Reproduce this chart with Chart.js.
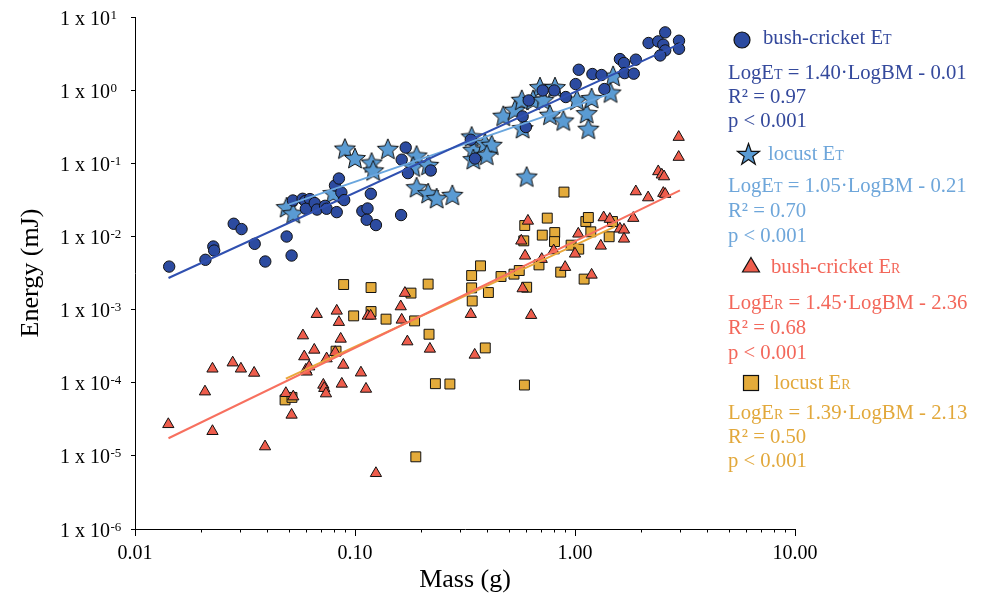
<!DOCTYPE html>
<html>
<head>
<meta charset="utf-8">
<script src="https://cdn.jsdelivr.net/npm/chart.js@4.4.1/dist/chart.umd.min.js"></script>
<style>
  body { margin: 0; background: #fff; }
  #wrap { position: relative; width: 983px; height: 597px; background: #fff; }
  .lg { position: absolute; font-family: "Liberation Serif", "Times New Roman", serif; font-size: 20.7px; line-height: 24px; white-space: nowrap; }
  .sc { font-variant: small-caps; }
  .mk { position: absolute; }
  .c1 { color: #34499c; }
  .c2 { color: #6ea6da; }
  .c3 { color: #f3675a; }
  .c4 { color: #e2a83b; }
</style>
</head>
<body>
<div id="wrap">
  <canvas id="myChart" width="983" height="597"></canvas>

  <svg class="mk" style="left:732px;top:30px" width="20" height="20"><circle cx="10" cy="10" r="8" fill="#2c4ba0" stroke="#111" stroke-width="1.2"/></svg>
  <div class="lg c1" style="left:763px;top:25px">bush-cricket E<span class="sc">t</span></div>
  <div class="lg c1" style="left:728px;top:60px">LogE<span class="sc">t</span> = 1.40·LogBM - 0.01</div>
  <div class="lg c1" style="left:728px;top:84px">R² = 0.97</div>
  <div class="lg c1" style="left:728px;top:108px">p &lt; 0.001</div>

  <svg class="mk" style="left:736px;top:142px" width="25" height="25"><polygon fill="#5a9bd3" stroke="#111" stroke-width="1.2" points="12.5,1.5 15.2,9.3 23.5,9.4 16.8,14.4 19.3,22.3 12.5,17.6 5.7,22.3 8.2,14.4 1.5,9.4 9.8,9.3"/></svg>
  <div class="lg c2" style="left:768px;top:141px">locust E<span class="sc">t</span></div>
  <div class="lg c2" style="left:728px;top:173px">LogE<span class="sc">t</span> = 1.05·LogBM - 0.21</div>
  <div class="lg c2" style="left:728px;top:198px">R² = 0.70</div>
  <div class="lg c2" style="left:728px;top:223px">p &lt; 0.001</div>

  <svg class="mk" style="left:741px;top:256px" width="20" height="18"><polygon fill="#ee5d4c" stroke="#111" stroke-width="1.2" points="10,1.5 18.5,16 1.5,16"/></svg>
  <div class="lg c3" style="left:771px;top:254px">bush-cricket E<span class="sc">r</span></div>
  <div class="lg c3" style="left:728px;top:290px">LogE<span class="sc">r</span> = 1.45·LogBM - 2.36</div>
  <div class="lg c3" style="left:728px;top:315px">R² = 0.68</div>
  <div class="lg c3" style="left:728px;top:340px">p &lt; 0.001</div>

  <svg class="mk" style="left:742px;top:374px" width="18" height="18"><rect x="1.5" y="1.5" width="15" height="15" fill="#e4ab3b" stroke="#111" stroke-width="1.2"/></svg>
  <div class="lg c4" style="left:774px;top:370px">locust E<span class="sc">r</span></div>
  <div class="lg c4" style="left:728px;top:400px">LogE<span class="sc">r</span> = 1.39·LogBM - 2.13</div>
  <div class="lg c4" style="left:728px;top:424px">R² = 0.50</div>
  <div class="lg c4" style="left:728px;top:448px">p &lt; 0.001</div>
</div>

<script>
// bush-cricket E_T (circles)
var bcEtMass = [0.0143, 0.0209, 0.0227, 0.0229, 0.0281, 0.0305, 0.035, 0.0391, 0.0489, 0.0515,
  0.0522, 0.0578, 0.0594, 0.0624, 0.0598, 0.0656, 0.0672, 0.0731, 0.0743, 0.0826,
  0.0811, 0.0845, 0.0867, 0.0893, 0.108, 0.114, 0.113, 0.118, 0.1245, 0.170,
  0.163, 0.174, 0.221, 0.162, 0.336, 0.351, 0.616, 0.578, 0.598, 0.713,
  0.805, 0.908, 1.007, 1.04, 1.20, 1.32, 1.36, 1.60, 1.67, 1.89,
  1.68, 1.85, 2.16, 2.39, 2.57, 2.52, 2.57, 2.44, 2.97, 2.97];
var bcEtEnergy = [0.00387, 0.00479, 0.00728, 0.00641, 0.0149, 0.0126, 0.00792, 0.00454, 0.00997, 0.00548,
  0.031, 0.0327, 0.0304, 0.0324, 0.0239, 0.0286, 0.0233, 0.0262, 0.0239, 0.0215,
  0.0497, 0.0619, 0.0399, 0.0314, 0.0222, 0.0241, 0.0169, 0.0383, 0.0143, 0.164,
  0.112, 0.0734, 0.0797, 0.0196, 0.210, 0.116, 0.723, 0.437, 0.313, 0.99,
  0.99, 0.805, 1.21, 1.90, 1.66, 1.61, 1.035, 2.66, 2.35, 2.61,
  1.71, 1.68, 4.41, 4.64, 6.16, 4.18, 3.49, 2.98, 4.74, 3.68];

// locust E_T (stars)
var lcEtMass = [0.0489, 0.0524, 0.090, 0.100, 0.119, 0.121, 0.141, 0.1905, 0.184, 0.215,
  0.1905, 0.215, 0.235, 0.277, 0.339, 0.345, 0.345, 0.390, 0.418, 0.397,
  0.603, 0.472, 0.533, 0.573, 0.578, 0.693, 0.811, 0.645, 0.718, 0.769,
  0.885, 1.02, 1.13, 1.15, 1.19, 1.49, 1.45, 0.0796];
var lcEtEnergy = [0.0252, 0.0208, 0.159, 0.118, 0.1026, 0.080, 0.158, 0.128, 0.0904, 0.0953,
  0.0472, 0.0391, 0.0334, 0.037, 0.233, 0.153, 0.114, 0.189, 0.179, 0.131,
  0.0659, 0.447, 0.54, 0.739, 0.303, 1.10, 1.10, 0.739, 0.739, 0.461,
  0.385, 0.739, 0.486, 0.297, 0.78, 1.57, 0.93, 0.0391];

// bush-cricket E_R (triangles)
var bcErMass = [0.01417, 0.0208, 0.0225, 0.0225, 0.0278, 0.0303, 0.0348, 0.039, 0.0485, 0.0515,
  0.0524, 0.058, 0.0588, 0.0598, 0.0603, 0.0619, 0.0653, 0.067, 0.0743, 0.0718,
  0.0725, 0.0738, 0.0813, 0.0826, 0.0845, 0.0861, 0.0885, 0.0871, 0.1064, 0.1122,
  0.1245, 0.1686, 0.1614, 0.1143, 0.1178, 0.163, 0.173, 0.219, 0.336, 0.35,
  0.611, 0.570, 0.593, 0.578, 0.632, 0.706, 0.80, 0.902, 1.00, 1.035,
  1.19, 1.31, 1.35, 1.44, 1.60, 1.67, 1.67, 1.84, 1.89, 2.15,
  2.52, 2.57, 2.39, 2.48, 2.54, 2.96, 2.96];
var bcErEnergy = [2.70e-5, 7.55e-5, 1.55e-4, 2.17e-5, 1.88e-4, 1.55e-4, 1.36e-4, 1.34e-5, 7.18e-5, 3.63e-5,
  6.46e-5, 4.41e-4, 2.28e-4, 1.50e-4, 1.41e-4, 1.66e-4, 2.81e-4, 8.65e-4, 2.14e-4, 9.33e-5,
  8.41e-5, 7.10e-5, 2.61e-4, 9.6e-4, 6.73e-4, 3.97e-4, 1.75e-4, 9.64e-5, 1.37e-4, 8.22e-5,
  5.78e-6, 1.68e-3, 1.10e-3, 8.2e-4, 8.2e-4, 7.23e-4, 3.65e-4, 2.90e-4, 8.65e-4, 2.40e-4,
  0.0163, 8.71e-3, 5.43e-3, 1.94e-3, 8.38e-4, 4.89e-3, 6.41e-3, 3.80e-3, 5.78e-3, 0.01086,
  2.98e-3, 7.43e-3, 0.01815, 0.01726, 0.0127, 0.0123, 9.27e-3, 0.0178, 0.0411, 0.0340,
  0.0391, 0.0379, 0.0773, 0.0697, 0.0659, 0.228, 0.1216];

// locust E_R (squares)
var lcErMass = [0.0481, 0.0517, 0.0888, 0.1183, 0.1797, 0.215, 0.0986, 0.1183, 0.1384, 0.1866,
  0.217, 0.082, 0.232, 0.270, 0.189, 0.339, 0.339, 0.341, 0.372, 0.404,
  0.391, 0.461, 0.528, 0.558, 0.589, 0.591, 0.585, 0.603, 0.686, 0.710,
  0.748, 0.809, 0.807, 0.861, 0.891, 0.96, 1.04, 1.10, 1.12, 1.15,
  1.18, 1.43, 1.48];
var lcErEnergy = [5.82e-5, 6.3e-5, 2.20e-3, 2.0e-3, 1.68e-3, 2.23e-3, 8.2e-4, 9.4e-4, 7.4e-4, 7.0e-4,
  4.6e-4, 2.70e-4, 9.7e-5, 9.6e-5, 9.7e-6, 2.92e-3, 1.98e-3, 1.31e-3, 3.96e-3, 1.71e-3,
  2.99e-4, 2.83e-3, 3.05e-3, 3.42e-3, 9.3e-5, 0.0141, 8.7e-3, 2.02e-3, 4.08e-3, 0.01042,
  0.0178, 0.0113, 8.5e-3, 3.25e-3, 0.0404, 7.6e-3, 6.7e-3, 2.61e-3, 0.0160, 0.01815,
  0.01156, 9.9e-3, 0.0160];

// fitted lines (end points as drawn)
var bcEtFitMass = [0.0142, 3.10], bcEtFitEnergy = [0.0027, 4.5];
var lcEtFitMass = [0.0496, 1.44], lcEtFitEnergy = [0.027, 0.89];
var bcErFitMass = [0.0142, 3.0], bcErFitEnergy = [1.74e-5, 0.0425];
var lcErFitMass = [0.0485, 1.52], lcErFitEnergy = [1.14e-4, 0.0136];

var xTickLabels = { '0.01': '0.01', '0.1': '0.10', '1': '1.00', '10': '10.00' };

function pts(xs, ys) {
  return xs.map(function (x, i) { return { x: x, y: ys[i] }; });
}
function isDecade(v) {
  var l = Math.log10(v);
  return Math.abs(l - Math.round(l)) < 1e-6;
}

// five point star marker
var star = document.createElement('canvas');
star.width = 26; star.height = 26;
(function () {
  var c = star.getContext('2d');
  c.beginPath();
  for (var i = 0; i < 10; i++) {
    var r = i % 2 === 0 ? 11 : 5;
    var a = -Math.PI / 2 + i * Math.PI / 5;
    c.lineTo(13 + r * Math.cos(a), 14 + r * Math.sin(a));
  }
  c.closePath();
  c.fillStyle = '#5a9bd3';
  c.fill();
  c.lineWidth = 1;
  c.strokeStyle = '#111';
  c.stroke();
})();

var serif = '"Liberation Serif", "Times New Roman", serif';

var axisDeco = {
  id: 'axisDeco',
  afterDraw: function (chart) {
    var ctx = chart.ctx, ys = chart.scales.y, xs = chart.scales.x;
    ctx.save();
    ctx.fillStyle = '#000';
    ctx.textAlign = 'left';
    ctx.textBaseline = 'alphabetic';
    ys.ticks.forEach(function (t) {
      var py = ys.getPixelForValue(t.value);
      var e = Math.round(Math.log10(t.value));
      ctx.font = '20px ' + serif;
      ctx.fillText('1 x 10', 60, py + 7.5);
      var w = ctx.measureText('1 x 10').width;
      ctx.font = '13px ' + serif;
      ctx.fillText(String(e), 60 + w + 0.5, py + 1.5);
    });
    // minor ticks on the mass axis
    ctx.strokeStyle = '#000';
    ctx.lineWidth = 1;
    [0.01, 0.1, 1].forEach(function (d) {
      for (var m = 2; m <= 9; m++) {
        var px = Math.round(xs.getPixelForValue(m * d)) + 0.5;
        ctx.beginPath();
        ctx.moveTo(px, xs.top);
        ctx.lineTo(px, xs.top + 3.5);
        ctx.stroke();
      }
    });
    ctx.restore();
  }
};

var ctx = document.getElementById('myChart');

var myChart = new Chart(ctx, {
  type: 'scatter',
  data: {
    datasets: [
      { label: 'bush-cricket ET fit', data: pts(bcEtFitMass, bcEtFitEnergy), showLine: true,
        borderColor: '#3050b0', borderWidth: 2, pointRadius: 0, order: 0 },
      { label: 'locust ET fit', data: pts(lcEtFitMass, lcEtFitEnergy), showLine: true,
        borderColor: '#6aa6de', borderWidth: 2, pointRadius: 0, order: 0 },
      { label: 'bush-cricket ER fit', data: pts(bcErFitMass, bcErFitEnergy), showLine: true,
        borderColor: '#f7705f', borderWidth: 2, pointRadius: 0, order: 0 },
      { label: 'locust ER fit', data: pts(lcErFitMass, lcErFitEnergy), showLine: true,
        borderColor: '#e9a83a', borderWidth: 2, pointRadius: 0, order: 0 },
      { label: 'bush-cricket ET', data: pts(bcEtMass, bcEtEnergy), pointStyle: 'circle',
        pointRadius: 5.7, backgroundColor: '#2c4ba0', borderColor: '#111', borderWidth: 1, order: 1 },
      { label: 'locust ET', data: pts(lcEtMass, lcEtEnergy), pointStyle: star,
        pointRadius: 11, backgroundColor: '#5a9bd3', borderColor: '#111', order: 2 },
      { label: 'bush-cricket ER', data: pts(bcErMass, bcErEnergy), pointStyle: 'triangle',
        pointRadius: 6.5, backgroundColor: '#ee5d4c', borderColor: '#111', borderWidth: 1, order: 3 },
      { label: 'locust ER', data: pts(lcErMass, lcErEnergy), pointStyle: 'rect',
        pointRadius: 7, backgroundColor: '#e4ab3b', borderColor: '#111', borderWidth: 1, order: 4 }
    ]
  },
  options: {
    responsive: false,
    animation: false,
    layout: { padding: { top: 17, right: 188, left: 0, bottom: 0 } },
    plugins: { legend: { display: false }, tooltip: { enabled: false } },
    scales: {
      x: {
        type: 'logarithmic', min: 0.01, max: 10, position: 'bottom',
        afterBuildTicks: function (s) { s.ticks = s.ticks.filter(function (t) { return isDecade(t.value); }); },
        afterFit: function (s) { s.height = 68; },
        ticks: {
          autoSkip: false, maxRotation: 0, padding: 6, color: '#000',
          font: { family: serif, size: 20 },
          callback: function (v) { return xTickLabels[String(v)] || ''; }
        },
        grid: { drawOnChartArea: false, drawTicks: true, tickLength: 7, color: '#000' },
        border: { color: '#000', width: 1 },
        title: { display: true, text: 'Mass (g)', color: '#000',
          font: { family: serif, size: 26 }, padding: { top: 0, bottom: 1 } }
      },
      y: {
        type: 'logarithmic', min: 1e-6, max: 10,
        afterBuildTicks: function (s) { s.ticks = s.ticks.filter(function (t) { return isDecade(t.value); }); },
        afterFit: function (s) { s.width = 135; },
        ticks: { font: { size: 10 }, callback: function () { return ''; } },
        grid: { drawOnChartArea: false, drawTicks: true, tickLength: 4, color: '#000' },
        border: { color: '#000', width: 1 },
        title: { display: true, text: 'Energy (mJ)', color: '#000',
          font: { family: serif, size: 26 }, padding: { top: 16, bottom: 0 } }
      }
    }
  },
  plugins: [axisDeco]
});
</script>
</body>
</html>
